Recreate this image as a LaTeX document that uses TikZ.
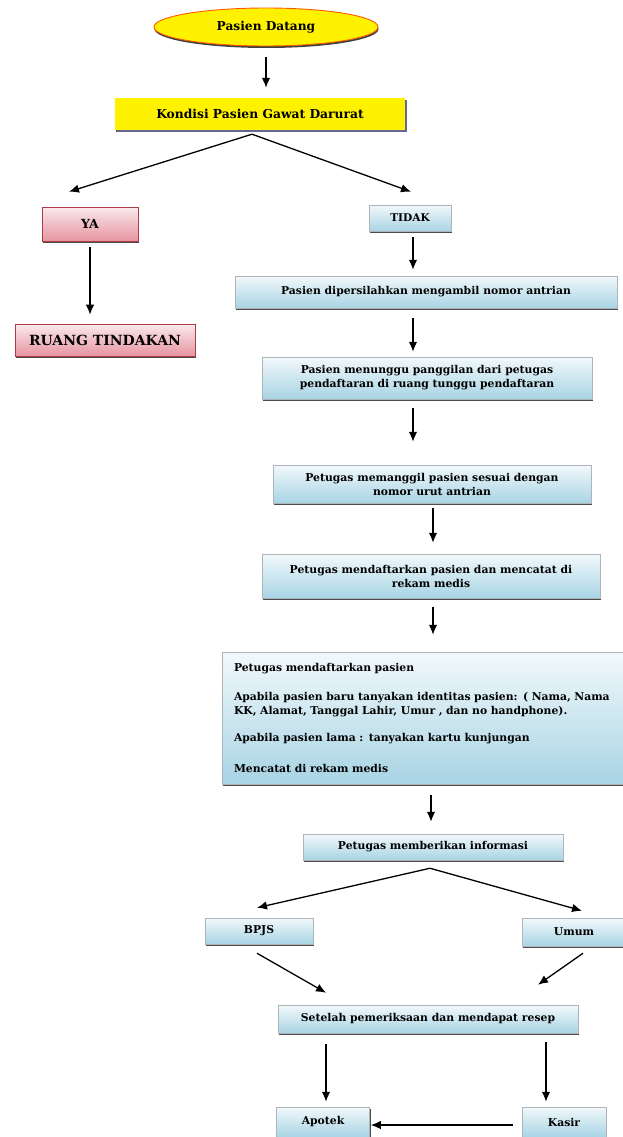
\documentclass[tikz,border=0pt]{standalone}
\usepackage{fontspec}
\setmainfont{DejaVu Serif}
\usepackage{xcolor}
\usetikzlibrary{positioning,shapes.geometric,shadows,arrows.meta}

\definecolor{boxblue}{RGB}{168,212,228}
\definecolor{boxred}{RGB}{222,112,128}
\definecolor{rimred}{RGB}{170,60,70}
\definecolor{rimgray}{RGB}{120,130,140}

\tikzset{
  flowbox/.style={rectangle, inner sep=0pt, align=center,
    font=\bfseries\fontsize{10.8}{14}\selectfont,
    drop shadow={shadow xshift=1.2pt, shadow yshift=-1.8pt, fill=black!70, opacity=1}},
  bluebox/.style={flowbox, draw=rimgray!60, line width=0.5pt,
    top color=white!85!boxblue, bottom color=boxblue},
  redbox/.style={flowbox, draw=rimred, line width=0.6pt,
    top color=boxred!15!white, bottom color=boxred!75!white},
  yellowbox/.style={flowbox, fill=yellow, draw=none,
    drop shadow={shadow xshift=1.5pt, shadow yshift=-2.2pt, fill=gray!80!blue, opacity=1}},
  startnode/.style={ellipse, fill=yellow, draw=orange!70!red, line width=0.9pt,
    inner sep=0pt, font=\bfseries\fontsize{12.2}{14}\selectfont,
    drop shadow={shadow xshift=0.5pt, shadow yshift=-2pt, fill=black!75, opacity=1}},
  arr/.style={-{Latex[length=10pt,width=8.5pt]}, line width=1.3pt}
}

\begin{document}
\begin{tikzpicture}[x=1pt,y=-1pt]
    \useasboundingbox (0,0) rectangle (622,1137);

    \node[startnode, minimum width=224pt, minimum height=38pt] (datang) at (266,27) {Pasien Datang};
    \node[yellowbox, minimum width=290pt, minimum height=32pt, font=\bfseries\fontsize{12.3}{14}\selectfont] (kondisi) at (260,114) {Kondisi Pasien Gawat Darurat};
    \node[redbox, minimum width=96pt, minimum height=34pt, font=\bfseries\fontsize{12.5}{14}\selectfont] (ya) at (90,224) {YA};
    \node[redbox, minimum width=180pt, minimum height=32pt, font=\bfseries\fontsize{14}{16}\selectfont] (ruang) at (105,340) {RUANG TINDAKAN};
    \node[bluebox, minimum width=82pt, minimum height=26pt, font=\bfseries\fontsize{10.6}{12}\selectfont] (tidak) at (410,218) {TIDAK};
    \node[bluebox, minimum width=382pt, minimum height=32pt] (ambil) at (426,292) {Pasien dipersilahkan mengambil nomor antrian};
    \node[bluebox, minimum width=330pt, minimum height=42pt] (tunggu) at (427,378) {Pasien menunggu panggilan dari petugas\\pendaftaran di ruang tunggu pendaftaran};
    \node[bluebox, minimum width=318pt, minimum height=38pt] (panggil) at (432,484) {Petugas memanggil pasien sesuai dengan\\nomor urut antrian};
    \node[bluebox, minimum width=338pt, minimum height=44pt] (daftar) at (431,576) {Petugas mendaftarkan pasien dan mencatat di\\rekam medis};
    \node[bluebox, text width=396pt, inner xsep=12pt, minimum height=132pt, align=left] (detail) at (432,718)
        {Petugas mendaftarkan pasien\\[15pt]
         Apabila pasien baru tanyakan identitas pasien: ( Nama, Nama\\
         KK, Alamat, Tanggal Lahir, Umur , dan no handphone).\\[13pt]
         Apabila pasien lama : tanyakan kartu kunjungan\\[17pt]
         Mencatat di rekam medis};
    \node[bluebox, minimum width=260pt, minimum height=26pt] (info) at (433,847) {Petugas memberikan informasi};
    \node[bluebox, minimum width=108pt, minimum height=26pt] (bpjs) at (259,931) {BPJS};
    \node[bluebox, minimum width=104pt, minimum height=28pt] (umum) at (574,932) {Umum};
    \node[bluebox, minimum width=300pt, minimum height=28pt] (resep) at (428,1019) {Setelah pemeriksaan dan mendapat resep};
    \node[bluebox, minimum width=93pt, minimum height=30pt] (apotek) at (323,1122) {Apotek};
    \node[bluebox, minimum width=84pt, minimum height=30pt] (kasir) at (564,1122) {Kasir};

    \draw[arr, shorten <=11pt, shorten >=10pt] (datang.south) -- (datang.south |- kondisi.north);
    \draw[arr] ([xshift=-8pt,yshift=-4pt]kondisi.south) -- ([xshift=-21pt,yshift=15pt]ya.north);
    \draw[arr] ([xshift=-8pt,yshift=-4pt]kondisi.south) -- ([xshift=1pt,yshift=13pt]tidak.north);
    \draw[arr, shorten <=6pt, shorten >=9pt] (ya.south) -- (ya.south |- ruang.north);
    \draw[arr] ([xshift=3pt,yshift=-6pt]tidak.south) -- ([xshift=-13pt,yshift=6pt]ambil.north);
    \draw[arr] ([xshift=-13pt,yshift=-10pt]ambil.south) -- ([xshift=-14pt,yshift=5pt]tunggu.north);
    \draw[arr] ([xshift=-14pt,yshift=-9pt]tunggu.south) -- ([xshift=-19pt,yshift=23pt]panggil.north);
    \draw[arr] ([xshift=1pt,yshift=-5pt]panggil.south) -- ([xshift=2pt,yshift=11pt]daftar.north);
    \draw[arr] ([xshift=2pt,yshift=-9pt]daftar.south) -- ([xshift=1pt,yshift=17pt]detail.north);
    \draw[arr] ([xshift=-1pt,yshift=-11pt]detail.south) -- ([xshift=-2pt,yshift=12pt]info.north);
    \draw[arr] ([xshift=-3pt,yshift=-8pt]info.south) -- ([xshift=-2pt,yshift=10pt]bpjs.north);
    \draw[arr] ([xshift=-3pt,yshift=-8pt]info.south) -- ([xshift=8pt,yshift=7pt]umum.north);
    \draw[arr] ([xshift=-2pt,yshift=-9pt]bpjs.south) -- ([xshift=-102pt,yshift=12pt]resep.north);
    \draw[arr] ([xshift=9pt,yshift=-7pt]umum.south) -- ([xshift=110pt,yshift=20pt]resep.north);
    \draw[arr] ([xshift=-102pt,yshift=-11pt]resep.south) -- ([xshift=3pt,yshift=5pt]apotek.north);
    \draw[arr] ([xshift=118pt,yshift=-9pt]resep.south) -- ([xshift=-18pt,yshift=5pt]kasir.north);
    \draw[arr] ([xshift=-9pt,yshift=-3pt]kasir.west) -- ([xshift=1pt,yshift=-3pt]apotek.east);
\end{tikzpicture}
\end{document}
